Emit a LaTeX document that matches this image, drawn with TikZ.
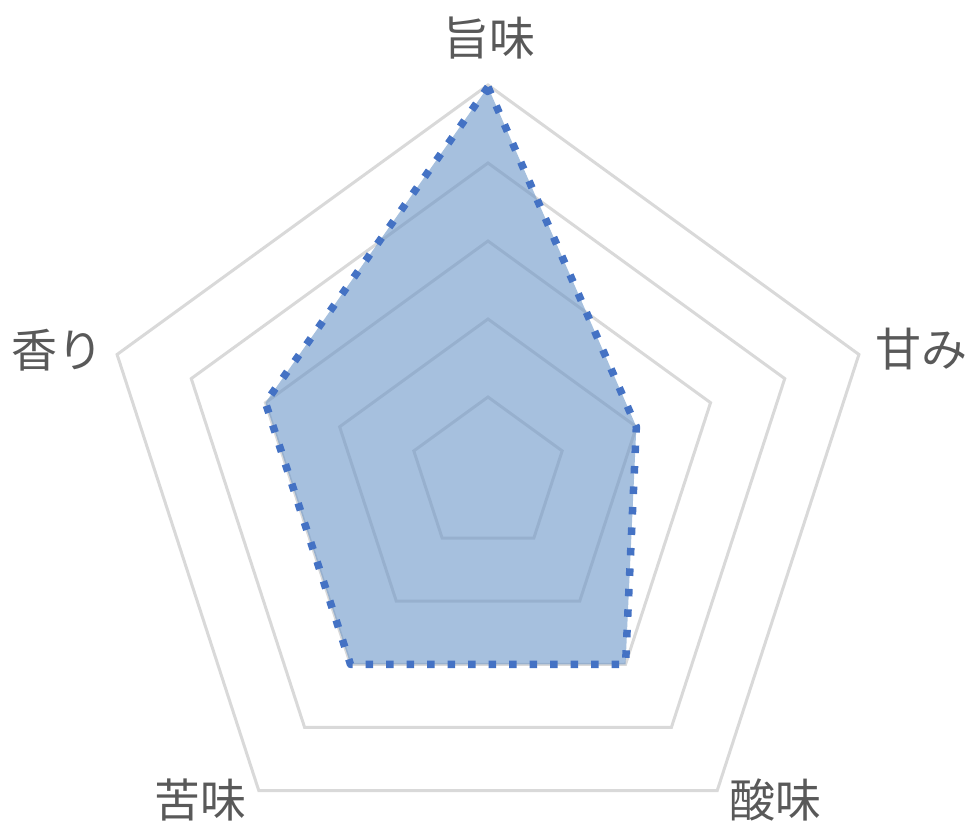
\documentclass[tikz,border=0pt]{standalone}
\usepackage{fontspec}
\newfontfamily\cjk{Noto Sans CJK JP}
\definecolor{gridgray}{RGB}{217,217,217}
\definecolor{labelgray}{RGB}{89,89,89}
\definecolor{datafill}{RGB}{107,150,200}
\definecolor{dataline}{RGB}{68,114,196}
\tikzset{
  ring/.style={draw=gridgray, line width=3pt, line join=miter},
  axislabel/.style={text=labelgray, inner sep=0pt, font=\cjk\fontsize{46}{50}\selectfont},
  series/.style={fill=datafill, fill opacity=0.6},
  seriesline/.style={draw=dataline, line width=7.5pt, dash pattern=on 7.5pt off 13pt, line cap=butt, line join=round}
}
\begin{document}
\begin{tikzpicture}[x=1pt,y=1pt]
\useasboundingbox (-488,-349) rectangle (480,475);
\coordinate (c) at (0,0);
% grid rings
\foreach \r in {390,312,234,156,78}{
  \draw[ring] (90:\r) -- (18:\r) -- (-54:\r) -- (-126:\r) -- (162:\r) -- cycle;
}
% data points: umami 5, sweet 2, sour 3, bitter 3, aroma 3
\coordinate (pu) at (90:388);
\coordinate (ps) at (18:156);
\coordinate (pa) at (-54:234);
\coordinate (pb) at (-126:234);
\coordinate (pk) at (162:234);
\fill[series] (pu) -- (ps) -- (pa) -- (pb) -- (pk) -- cycle;
\draw[seriesline] (pu) -- (ps) -- (pa) -- (pb) -- (pk) -- cycle;
% labels
\node[axislabel] (lu) at (1,437) {旨味};
\node[axislabel] (ls) at (433,126) {甘み};
\node[axislabel] (la) at (287,-325) {酸味};
\node[axislabel] (lb) at (-287,-325) {苦味};
\node[axislabel] (lk) at (-430,125) {香り};
\end{tikzpicture}
\end{document}
